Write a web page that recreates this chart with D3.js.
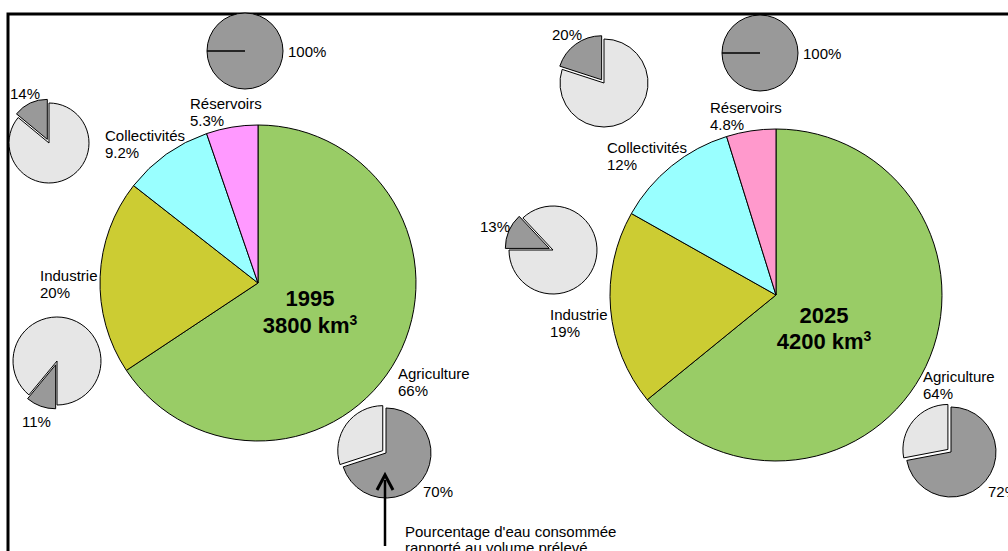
<!DOCTYPE html>
<html>
<head>
<meta charset="utf-8">
<script src="https://cdn.jsdelivr.net/npm/d3@7"></script>
<style>
  html, body { margin: 0; padding: 0; background: #fff; }
  svg { display: block; font-family: Arial, "Liberation Sans", sans-serif; }
</style>
</head>
<body>
<div id="chart"></div>
<script>
// ─── DATA ───────────────────────────────────────────────────────────────────────
const categories = ['Agriculture', 'Industrie', 'Collectivités', 'Réservoirs'];
const years = ['1995', '2025'];
const totals = ['3800', '4200'];                    // km³ prélevés
const shares1995 = [66, 20, 9.2, 5.3];             // % du volume prélevé
const shares2025 = [64, 19, 12, 4.8];
const consumed1995 = [70, 11, 14, 100];            // % consommé / prélevé
const consumed2025 = [72, 13, 20, 100];
const shareLabels1995 = ['66%', '20%', '9.2%', '5.3%'];
const shareLabels2025 = ['64%', '19%', '12%', '4.8%'];

const colors1995 = ['#99cc66', '#cccc33', '#99ffff', '#ff99ff'];
const colors2025 = ['#99cc66', '#cccc33', '#99ffff', '#ff99cc'];

// ─── LAYOUT ─────────────────────────────────────────────────────────────────────
const width = 1008, height = 551;
const deg = Math.PI / 180;
const fs = 15;

const layout = [
  { cx: 258, cy: 283, r: 158, title: [310, 306, 333],
    labels: [[398, 379], [40, 281], [105, 141], [190, 109]],
    small: [
      { cx: 386, cy: 453, r: 45, start: 0,    lab: [423, 497] },
      { cx: 57,  cy: 361, r: 44, start: 180,  lab: [22, 427] },
      { cx: 49,  cy: 143, r: 40, start: -50.4, lab: [10, 99] },
      { cx: 245, cy: 51,  r: 38, start: 270,  lab: [288, 57] }
    ] },
  { cx: 776, cy: 295, r: 166, title: [824, 323, 349],
    labels: [[923, 382], [550, 320], [607, 153], [710, 113]],
    small: [
      { cx: 951, cy: 452, r: 45, start: 0,   lab: [988, 497] },
      { cx: 553, cy: 250, r: 44, start: 270, lab: [480, 232] },
      { cx: 604, cy: 83,  r: 44, start: -72, lab: [552, 40] },
      { cx: 760, cy: 53,  r: 38, start: 270, lab: [803, 59] }
    ] }
];

const shares = [shares1995, shares2025];
const consumed = [consumed1995, consumed2025];
const shareLabels = [shareLabels1995, shareLabels2025];
const colors = [colors1995, colors2025];

// ─── SVG ────────────────────────────────────────────────────────────────────────
const svg = d3.select('#chart')
  .append('svg')
  .attr('width', width)
  .attr('height', height);

// frame (only top & left visible)
svg.append('path')
  .attr('d', 'M8,600V14H1100')
  .attr('fill', 'none')
  .attr('stroke', '#000')
  .attr('stroke-width', 3);

const bigPie = d3.pie().sort(null).value(d => d);

layout.forEach((L, k) => {
  // ─── BIG PIE ──────────────────────────────────────────────────────────────────
  const arc = d3.arc().innerRadius(0).outerRadius(L.r);
  const g = svg.append('g').attr('transform', `translate(${L.cx},${L.cy})`);
  g.selectAll('path')
    .data(bigPie(shares[k]))
    .enter().append('path')
    .attr('d', arc)
    .attr('fill', (d, i) => colors[k][i])
    .attr('stroke', '#000')
    .attr('stroke-width', 1)
    .attr('stroke-linejoin', 'round');

  // year + volume
  const t = svg.append('g')
    .attr('font-weight', 'bold')
    .attr('font-size', 22)
    .attr('text-anchor', 'middle');
  t.append('text').attr('x', L.title[0]).attr('y', L.title[1]).text(years[k]);
  const vol = t.append('text').attr('x', L.title[0]).attr('y', L.title[2]);
  vol.append('tspan').text(totals[k] + ' km');
  vol.append('tspan').attr('font-size', 14).attr('dy', -8).text('3');

  // category labels
  categories.forEach((c, i) => {
    const txt = svg.append('text')
      .attr('x', L.labels[i][0])
      .attr('y', L.labels[i][1])
      .attr('font-size', fs);
    txt.append('tspan').text(c);
    txt.append('tspan').attr('x', L.labels[i][0]).attr('dy', 16.5).text(shareLabels[k][i]);
  });

  // ─── SMALL PIES (consommé / prélevé) ──────────────────────────────────────────
  L.small.forEach((S, i) => {
    const v = consumed[k][i];
    const sg = svg.append('g').attr('transform', `translate(${S.cx},${S.cy})`);
    const sArc = d3.arc().innerRadius(0).outerRadius(S.r);
    if (v >= 100) {
      sg.append('circle').attr('r', S.r)
        .attr('fill', '#999999').attr('stroke', '#000').attr('stroke-width', 1);
      const a = S.start * deg;
      sg.append('line')
        .attr('x1', 0).attr('y1', 0)
        .attr('x2', S.r * Math.sin(a)).attr('y2', -S.r * Math.cos(a))
        .attr('stroke', '#000').attr('stroke-width', 1.5);
    } else {
      const p = d3.pie().sort(null).value(d => d)
        .startAngle(S.start * deg).endAngle(S.start * deg + 2 * Math.PI);
      const arcs = p([v, 100 - v]);
      const small = v <= 50 ? 0 : 1;   // the smaller slice is pulled out
      sg.selectAll('path')
        .data(arcs)
        .enter().append('path')
        .attr('transform', (d, j) => {
          if (j !== small) return null;
          const m = (d.startAngle + d.endAngle) / 2;
          return `translate(${4 * Math.sin(m)},${-4 * Math.cos(m)})`;
        })
        .attr('d', sArc)
        .attr('fill', (d, j) => j === 0 ? '#999999' : '#e6e6e6')
        .attr('stroke', '#000')
        .attr('stroke-width', 1);
    }
    svg.append('text')
      .attr('x', S.lab[0]).attr('y', S.lab[1])
      .attr('font-size', fs)
      .text(v + '%');
  });
});

// ─── ARROW + NOTE ───────────────────────────────────────────────────────────────
const arrowX = layout[0].small[0].cx - 1;
svg.append('line')
  .attr('x1', arrowX).attr('y1', 546)
  .attr('x2', arrowX).attr('y2', 480)
  .attr('stroke', '#000').attr('stroke-width', 2.5);
svg.append('path')
  .attr('d', `M${arrowX - 8},${490}L${arrowX},${475}L${arrowX + 8},${490}`)
  .attr('fill', 'none').attr('stroke', '#000').attr('stroke-width', 3);

const note = svg.append('text').attr('font-size', fs).attr('x', 405).attr('y', 537);
note.append('tspan').text("Pourcentage d'eau consommée");
note.append('tspan').attr('x', 405).attr('dy', 16).text('rapporté au volume prélevé');
</script>
</body>
</html>
